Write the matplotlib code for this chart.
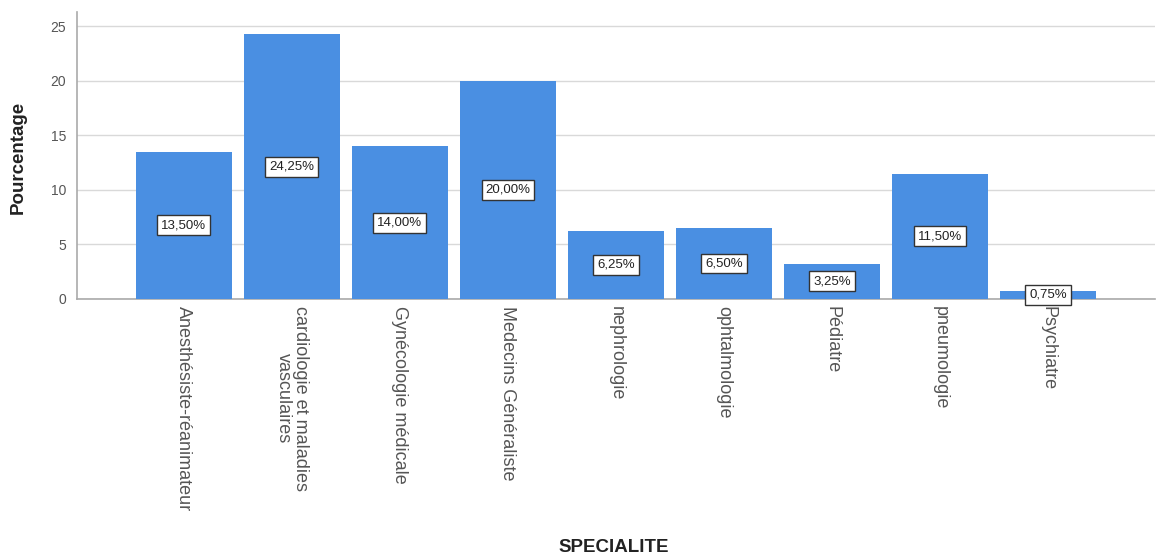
import matplotlib.pyplot as plt
import numpy as np

plt.rcParams.update({
    "font.family": ["Liberation Sans", "DejaVu Sans"],
    "figure.dpi": 100,
})

SPECIALITES = [
    "Anesthésiste-réanimateur",
    "cardiologie et maladies\nvasculaires",
    "Gynécologie médicale",
    "Medecins Généraliste",
    "nephrologie",
    "ophtalmologie",
    "Pédiatre",
    "pneumologie",
    "Psychiatre",
]
POURCENTAGES = [13.50, 24.25, 14.00, 20.00, 6.25, 6.50, 3.25, 11.50, 0.75]
Y_TICKS = [0, 5, 10, 15, 20, 25]

BAR_COLOR = "#4A8FE2"
GRID_COLOR = "#D9D9D9"
TEXT_COLOR = "#555555"

fig = plt.figure(figsize=(11.57, 5.58))
ax = fig.add_axes([77 / 1157, 1 - 299 / 558, (1155 - 77) / 1157, (299 - 12) / 558])

x = np.arange(len(SPECIALITES))
ax.bar(x, POURCENTAGES, width=0.89, color=BAR_COLOR, zorder=3)

# value boxes in the middle of each bar
for xi, val in zip(x, POURCENTAGES):
    label = f"{val:.2f}%".replace(".", ",")
    ax.text(
        xi, val / 2, label, ha="center", va="center", fontsize=9.5, color="#222222", zorder=4,
        bbox=dict(boxstyle="square,pad=0.3", facecolor="white", edgecolor="#333333", linewidth=1.0),
    )

ax.set_xlim(-0.99, 8.99)
ax.set_ylim(0, 26.3)
ax.set_yticks(Y_TICKS)
ax.set_xticks(x)
ax.set_xticklabels(SPECIALITES, rotation=-90, ha="center", va="top", fontsize=13,
                   color=TEXT_COLOR, linespacing=1.0)
ax.tick_params(axis="x", length=0, pad=5)
ax.tick_params(axis="y", length=0, pad=8, labelsize=10, labelcolor=TEXT_COLOR)

ax.set_axisbelow(True)
ax.grid(axis="y", color=GRID_COLOR, linewidth=1.0, zorder=0)
for side in ["top", "right"]:
    ax.spines[side].set_visible(False)
ax.spines["left"].set_color("#AAAAAA")
ax.spines["bottom"].set_color("#AAAAAA")
ax.spines["left"].set_linewidth(1.2)
ax.spines["bottom"].set_linewidth(1.2)

fig.text(18 / 1157, 1 - 157 / 558, "Pourcentage", rotation=90, ha="center", va="center",
         fontsize=13.5, fontweight="bold", color="#222222")
fig.text(614 / 1157, 1 - 548 / 558, "SPECIALITE", ha="center", va="center",
         fontsize=13.5, fontweight="bold", color="#222222")

fig.savefig("out.png", dpi=100)
